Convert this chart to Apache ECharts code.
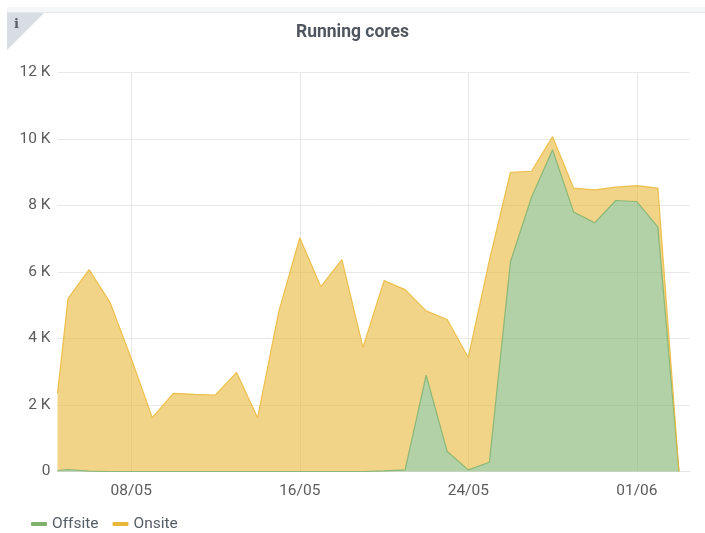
<!DOCTYPE html>
<html>
<head>
<meta charset="utf-8">
<style>html,body{margin:0;padding:0;background:#fff}#c{width:705px;height:533px}</style>
<script src="https://cdn.jsdelivr.net/npm/echarts@6/dist/echarts.min.js"></script>
</head>
<body>
<div id="c"></div>
<script>
const dates = ['2018-05-04T12:00:00Z','2018-05-05','2018-05-06','2018-05-07','2018-05-08','2018-05-09','2018-05-10','2018-05-11','2018-05-12','2018-05-13','2018-05-14','2018-05-15','2018-05-16','2018-05-17','2018-05-18','2018-05-19','2018-05-20','2018-05-21','2018-05-22','2018-05-23','2018-05-24','2018-05-25','2018-05-26','2018-05-27','2018-05-28','2018-05-29','2018-05-30','2018-05-31','2018-06-01','2018-06-02','2018-06-03'];
const offsite = [30,60,10,0,0,0,0,0,0,0,0,0,0,0,0,0,20,50,2900,600,50,280,6300,8250,9680,7800,7480,8150,8120,7350,0];
const onsite = [2320,5140,6060,5080,3400,1620,2350,2320,2300,2980,1620,4800,7030,5560,6370,3730,5720,5420,1930,3970,3380,6070,2700,780,390,720,990,400,480,1170,0];
const tickDates = ['2018-05-08','2018-05-16','2018-05-24','2018-06-01'];
const axisStart = '2018-05-04T12:00:00Z';
const axisEnd = '2018-06-03T12:00:00Z';
const font = 'Roboto';
const toTime = d => new Date(d).getTime();
const pad = n => String(n).padStart(2, '0');
const chart = echarts.init(document.getElementById('c'), null, {renderer: 'canvas'});
chart.setOption({
  animation: false,
  backgroundColor: '#fff',
  title: {text: 'Running cores', left: 'center', top: 19,
    textStyle: {fontFamily: font, fontSize: 17.5, fontWeight: 'bold', color: '#50565e'}},
  legend: {left: 26, top: 511, itemWidth: 16, itemHeight: 4, itemGap: 14, icon: 'roundRect',
    textStyle: {fontFamily: font, fontSize: 15.5, color: '#555d66'},
    data: ['Offsite', 'Onsite']},
  grid: {left: 57.5, right: 15.5, top: 72.5, bottom: 61.5},
  xAxis: [
    {type: 'time', min: toTime(axisStart), max: toTime(axisEnd),
      axisLine: {show: false}, axisTick: {show: false}, axisLabel: {show: false}, splitLine: {show: false}},
    {type: 'value', position: 'bottom', min: toTime(axisStart), max: toTime(axisEnd), scale: true,
      axisLine: {show: true, onZero: false, lineStyle: {color: '#e4e4e4'}},
      axisTick: {show: false, customValues: tickDates.map(toTime)},
      splitLine: {show: true, lineStyle: {color: '#e8e8e8'}},
      axisLabel: {customValues: tickDates.map(toTime), margin: 12, fontFamily: font, fontSize: 15.5, color: '#5c5c5c',
        formatter: v => { const d = new Date(v); return pad(d.getUTCDate()) + '/' + pad(d.getUTCMonth() + 1); }}}
  ],
  yAxis: {
    type: 'value', min: 0, max: 12000, interval: 2000,
    axisLine: {show: false}, axisTick: {show: false},
    splitLine: {lineStyle: {color: '#e8e8e8'}},
    axisLabel: {margin: 7, padding: [2, 0, 0, 0], fontFamily: font, fontSize: 15.5, color: '#5c5c5c',
      formatter: v => v === 0 ? '0' : (v / 1000) + ' K'}
  },
  series: [
    {name: 'Offsite', type: 'line', stack: 'cores', symbol: 'none', color: '#7EB26D', xAxisIndex: 0,
      lineStyle: {width: 1.2, color: '#7EB26D', opacity: 0.85}, areaStyle: {color: '#7EB26D', opacity: 0.6},
      data: dates.map((d, i) => [toTime(d), offsite[i]])},
    {name: 'Onsite', type: 'line', stack: 'cores', symbol: 'none', color: '#EAB839', xAxisIndex: 0,
      lineStyle: {width: 1.2, color: '#EAB839', opacity: 0.85}, areaStyle: {color: '#EAB839', opacity: 0.6},
      data: dates.map((d, i) => [toTime(d), onsite[i]])}
  ],
  graphic: [
    {type: 'rect', shape: {x: 7, y: 7, width: 698, height: 5}, style: {fill: '#f5f6f8'}, silent: true},
    {type: 'rect', shape: {x: 7, y: 12, width: 698, height: 1}, style: {fill: '#e6e9ee'}, silent: true},
    {type: 'polygon', shape: {points: [[7,13],[44,13],[7,50]]}, style: {fill: '#d8dde4'}, silent: true},
    {type: 'text', x: 14, y: 18, silent: true, style: {text: 'i', font: 'bold 13px "DejaVu Serif"', fill: '#5a6068'}}
  ]
});
</script>
</body>
</html>
